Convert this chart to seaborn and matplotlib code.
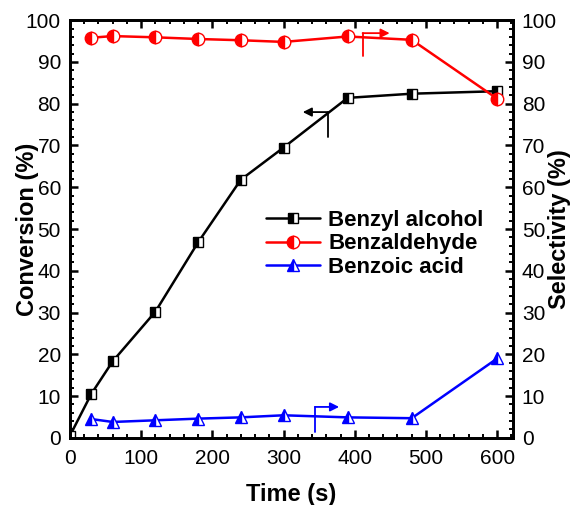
import numpy as np
import pandas as pd
import matplotlib
matplotlib.use("Agg")
import matplotlib.pyplot as plt
import seaborn as sns
from matplotlib.ticker import MultipleLocator

# ---------------- data ----------------
time_conv = [0, 30, 60, 120, 180, 240, 300, 390, 480, 600]
conversion = [0.5, 10.5, 18.3, 30.2, 46.8, 61.8, 69.5, 81.4, 82.4, 83.0]

time_sel = [30, 60, 120, 180, 240, 300, 390, 480, 600]
benzaldehyde = [95.8, 96.2, 95.9, 95.5, 95.2, 94.8, 96.1, 95.3, 81.2]
benzoic_acid = [4.5, 3.8, 4.2, 4.6, 4.9, 5.4, 4.9, 4.7, 19.0]

df_conv = pd.DataFrame({"Time": time_conv, "Value": conversion})
df_ald = pd.DataFrame({"Time": time_sel, "Value": benzaldehyde})
df_acid = pd.DataFrame({"Time": time_sel, "Value": benzoic_acid})

# ---------------- style ----------------
sns.set_style("ticks")
plt.rcParams["font.family"] = ["Liberation Sans", "DejaVu Sans"]
plt.rcParams.update({
    "text.color": "black",
    "axes.labelcolor": "black",
    "xtick.color": "black",
    "ytick.color": "black",
    "axes.edgecolor": "black",
    "axes.linewidth": 2.0,
    "xtick.direction": "in",
    "ytick.direction": "in",
    "xtick.major.size": 6,
    "ytick.major.size": 6,
    "xtick.minor.size": 3,
    "ytick.minor.size": 3,
    "xtick.major.width": 1.8,
    "ytick.major.width": 1.8,
    "xtick.minor.width": 1.4,
    "ytick.minor.width": 1.4,
    "xtick.labelsize": 15,
    "ytick.labelsize": 15,
    "xtick.major.pad": 8,
    "ytick.major.pad": 6.5,
})

fig, ax = plt.subplots(figsize=(5.73, 5.05), dpi=100)
ax2 = ax.twinx()

mk = dict(fillstyle="left", markerfacecoloralt="white", markeredgewidth=1.0)

sns.lineplot(data=df_conv, x="Time", y="Value", ax=ax, color="black",
             marker="s", markersize=7.5, markeredgecolor="black",
             markerfacecolor="black", linewidth=1.8, label="Benzyl alcohol",
             legend=False, **mk)
sns.lineplot(data=df_ald, x="Time", y="Value", ax=ax2, color="red",
             marker="o", markersize=9, markeredgecolor="red",
             markerfacecolor="red", linewidth=1.8, label="Benzaldehyde",
             legend=False, **mk)
sns.lineplot(data=df_acid, x="Time", y="Value", ax=ax2, color="blue",
             marker="^", markersize=9, markeredgecolor="blue",
             markerfacecolor="blue", linewidth=1.8, label="Benzoic acid",
             legend=False, **mk)

for a in (ax, ax2):
    a.set_xlim(0, 622)
    a.set_ylim(0, 100)
    a.yaxis.set_major_locator(MultipleLocator(10))
    a.yaxis.set_minor_locator(MultipleLocator(2))

ax.xaxis.set_major_locator(MultipleLocator(100))
ax.xaxis.set_minor_locator(MultipleLocator(20))
ax.tick_params(axis="x", which="both", top=True)
ax.tick_params(axis="y", which="both", left=True, right=False)
ax2.tick_params(axis="y", which="both", right=True)

ax.set_xlabel("Time (s)", fontsize=17, fontweight="bold", labelpad=11)
ax.set_ylabel("Conversion (%)", fontsize=17, fontweight="bold")
ax2.set_ylabel("Selectivity (%)", fontsize=17, fontweight="bold")
ax.yaxis.set_label_coords(-0.07, 0.5)
ax2.yaxis.set_label_coords(1.08, 0.5)

# axis indicator arrows
arrow_kw = dict(arrowstyle="-|>", mutation_scale=13, lw=1.3, shrinkA=0, shrinkB=0)
ax.plot([362, 362], [72, 78], color="black", lw=1.3)
ax.annotate("", xy=(327, 78), xytext=(362, 78),
            arrowprops=dict(color="black", **arrow_kw))
ax2.plot([411, 411], [91.4, 96.9], color="red", lw=1.3)
ax2.annotate("", xy=(449, 96.9), xytext=(411, 96.9),
             arrowprops=dict(color="red", **arrow_kw))
ax2.plot([344, 344], [1.4, 7.4], color="blue", lw=1.3)
ax2.annotate("", xy=(378, 7.4), xytext=(344, 7.4),
             arrowprops=dict(color="blue", **arrow_kw))

h1, l1 = ax.get_legend_handles_labels()
h2, l2 = ax2.get_legend_handles_labels()
leg = ax2.legend(h1 + h2, l1 + l2, loc="upper left",
                 bbox_to_anchor=(0.442, 0.545), frameon=False,
                 prop={"weight": "bold", "size": 16},
                 handlelength=2.45, handletextpad=0.36, labelspacing=0.1,
                 borderaxespad=0, borderpad=0)

fig.subplots_adjust(left=0.122, right=0.895, top=0.96, bottom=0.133)
fig.savefig("out.png", dpi=100)
